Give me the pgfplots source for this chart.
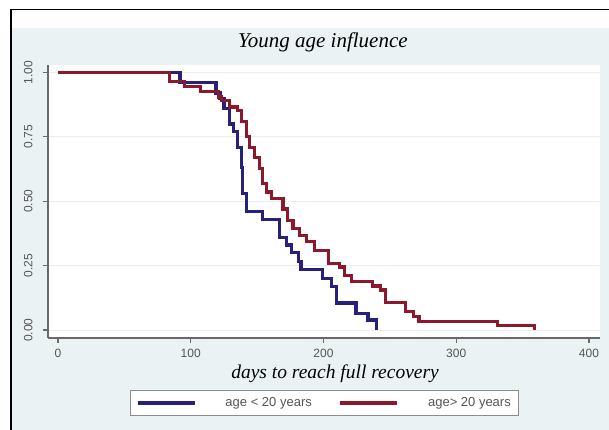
\documentclass[border=0pt]{standalone}
\usepackage{pgfplots}
\pgfplotsset{compat=1.18}
\usepackage{fontspec}
\setmainfont{Liberation Serif}
\setsansfont{Liberation Sans}

\definecolor{bgreg}{RGB}{234,242,243}
\definecolor{kmblue}{RGB}{38,34,124}
\definecolor{kmred}{RGB}{140,24,46}
\definecolor{axgray}{RGB}{105,105,105}
\definecolor{tickgray}{RGB}{85,85,85}
\definecolor{gridc}{RGB}{232,238,238}

\begin{document}
\begin{tikzpicture}[x=1pt,y=1pt]
\path[use as bounding box] (0,0) rectangle (609,430);
\fill[bgreg] (11,0) rectangle (609,402);
\draw[black,line width=1.4pt] (11,0) -- (11,420.5) -- (609,420.5);
\begin{axis}[
    at={(48pt,92pt)}, anchor=south west,
    scale only axis, width=552pt, height=273pt,
    xmin=-7.5, xmax=408.3, ymin=-0.031, ymax=1.029,
    axis x line*=bottom, axis y line*=left,
    axis line style={axgray, line width=1.1pt, -},
    axis background/.style={fill=white},
    tick align=outside, major tick length=5pt,
    tick style={axgray, line width=1.1pt},
    xtick={0,100,200,300,400},
    ytick={0,0.25,0.5,0.75,1},
    yticklabels={0.00,0.25,0.50,0.75,1.00},
    /pgf/number format/assume math mode=true,
    tick label style={font=\sffamily\fontsize{12}{14}\selectfont, text=tickgray},
    yticklabel style={rotate=90, anchor=south},
    yticklabel shift=7pt,
    xticklabel shift=3pt,
    ymajorgrids, major grid style={gridc, line width=0.8pt},
    title={Young age influence},
    title style={font=\itshape\fontsize{21}{24}\selectfont, at={(0.498,1)}, anchor=center, yshift=17pt},
    xlabel={days to reach full recovery},
    xlabel style={font=\itshape\fontsize{19.5}{22}\selectfont, at={(0.52,0)}, anchor=center, yshift=-36pt},
    legend columns=2,
    legend cell align=left,
    legend image code/.code={\draw[#1, line width=3.2pt] (0pt,0pt) -- (57pt,0pt);},
    legend style={at={(0.501,-0.238)}, anchor=center,
        draw={rgb,255:red,140;green,140;blue,140}, line width=0.8pt, fill=white,
        font=\sffamily\fontsize{13}{15}\selectfont, text=tickgray,
        inner xsep=6pt, inner ysep=5pt,
        /tikz/every even column/.append style={column sep=25pt},
        /tikz/every odd column/.append style={column sep=27pt}},
]
\addplot[kmblue, line width=3.2pt, const plot] coordinates {
    (0,1) (92,0.96) (119,0.92) (122,0.90) (125,0.86) (129,0.80) (132,0.77)
    (135,0.71) (138,0.63) (139,0.53) (142,0.46) (154,0.43) (167,0.36)
    (172,0.33) (176,0.30) (181,0.265) (183,0.236) (199,0.20) (206,0.168)
    (210,0.105) (224.5,0.065) (233.5,0.039) (240,0.0)
};
\addlegendentry{age < 20 years}
\addplot[kmred, line width=3.2pt, const plot] coordinates {
    (0,1) (84,0.965) (95.5,0.947) (107.5,0.927) (121,0.905) (123,0.89)
    (129,0.866) (135,0.853) (138,0.81) (142,0.75) (144,0.71) (148,0.67)
    (152,0.627) (154,0.568) (157,0.536) (161,0.51) (169.5,0.47) (173,0.426)
    (177,0.394) (182,0.368) (187,0.345) (193,0.31) (204,0.259) (212,0.245)
    (216,0.213) (221,0.187) (237,0.171) (243,0.155) (247,0.106) (262,0.071)
    (268,0.052) (272,0.033) (331,0.016) (359,0.0)
};
\addlegendentry{age> 20 years}
\end{axis}
\end{tikzpicture}
\end{document}
